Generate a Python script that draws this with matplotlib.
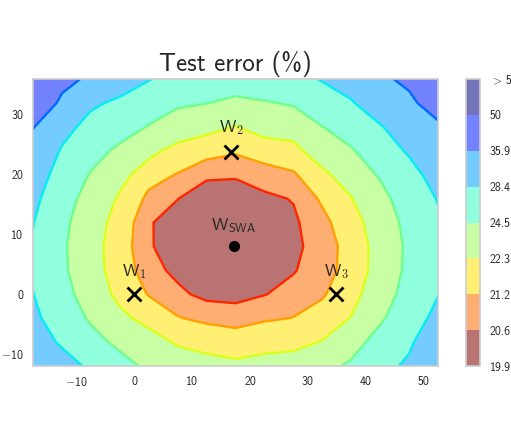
import numpy as np
import matplotlib
matplotlib.use("Agg")
import matplotlib.pyplot as plt
from matplotlib.colors import Normalize

plt.rcParams.update({
    "font.family": "cmss10",
    "mathtext.fontset": "cm",
    "axes.formatter.use_mathtext": False,
    "text.color": "0.15",
    "xtick.color": "0.15",
    "ytick.color": "0.15",
})

# grid coordinates of the plane
x_coords = [-17.5, -12.5, -7.5, -2.5, 2.5, 7.5, 12.5, 17.5, 22.5, 27.5, 32.5, 37.5, 42.5, 47.5, 52.5]
y_coords = [-12, -8, -4, 0, 4, 8, 12, 16, 20, 24, 28, 32, 36]

# test error (%) on the grid, rows follow y_coords, columns follow x_coords
err_y_m12 = [32.51, 30.15, 27.70, 25.65, 23.90, 23.20, 22.75, 22.55, 22.65, 22.95, 23.73, 24.90, 27.10, 29.10, 33.50]
err_y_m8 = [30.58, 27.82, 25.57, 23.79, 22.95, 22.12, 21.87, 21.70, 21.96, 21.92, 22.37, 23.45, 25.57, 27.73, 31.70]
err_y_m4 = [29.26, 26.32, 24.10, 22.66, 21.82, 21.25, 21.00, 20.85, 21.08, 21.22, 21.56, 22.36, 24.10, 26.34, 29.58]
err_y_0 = [28.47, 25.41, 23.27, 21.90, 21.15, 20.72, 20.45, 20.45, 20.58, 20.80, 21.11, 21.77, 23.27, 25.48, 28.28]
err_y_4 = [28.10, 24.95, 22.87, 21.68, 20.79, 20.47, 20.31, 20.26, 20.36, 20.56, 20.89, 21.51, 22.87, 25.05, 27.62]
err_y_8 = [28.10, 24.86, 22.83, 21.60, 20.65, 20.36, 20.18, 20.11, 20.24, 20.47, 20.85, 21.50, 22.83, 24.96, 27.49]
err_y_12 = [28.52, 25.08, 23.03, 21.72, 20.64, 20.40, 20.23, 20.17, 20.28, 20.50, 20.98, 21.72, 23.09, 25.23, 27.82]
err_y_16 = [29.40, 25.61, 23.50, 22.10, 20.98, 20.61, 20.35, 20.37, 20.49, 20.63, 21.32, 22.23, 23.69, 25.89, 28.61]
err_y_20 = [30.86, 26.53, 24.31, 22.77, 21.57, 21.15, 20.68, 20.65, 20.86, 21.08, 21.97, 23.11, 24.75, 27.04, 29.99]
err_y_24 = [33.05, 27.94, 25.57, 23.92, 22.69, 21.83, 21.50, 21.30, 21.60, 21.90, 23.09, 24.20, 26.47, 28.86, 32.11]
err_y_28 = [36.24, 30.05, 26.80, 25.78, 24.35, 23.24, 22.70, 22.25, 22.87, 22.91, 24.45, 26.00, 28.00, 31.62, 34.44]
err_y_32 = [40.83, 34.80, 29.20, 27.50, 26.00, 24.85, 24.55, 24.07, 24.30, 24.75, 26.90, 28.00, 31.50, 34.30, 39.89]
err_y_36 = [47.41, 37.55, 34.94, 31.00, 28.60, 26.60, 25.80, 25.60, 26.30, 27.30, 28.60, 30.50, 34.50, 37.50, 46.65]

# contour levels and colorbar labels
levels = [19.9, 20.6, 21.2, 22.3, 24.5, 28.4, 35.9, 50.0, 1e10]
level_labels = ["19.9", "20.6", "21.2", "22.3", "24.5", "28.4", "35.9", "50", r"$>\,$50"]

# axis ticks
x_ticks = [-10, 0, 10, 20, 30, 40, 50]
y_ticks = [-10, 0, 10, 20, 30]

# points
point_names = [r"W$_\mathsf{1}$", r"W$_\mathsf{2}$", r"W$_\mathsf{3}$"]
point_x = [0.0, 16.7, 34.9]
point_y = [0.0, 23.8, 0.0]
swa_name = r"W$_\mathsf{SWA}$"
swa_x = [17.2]
swa_y = [8.0]


class LogNormalize(Normalize):
    def __init__(self, vmin=None, vmax=None, clip=False, log_alpha=-1.0):
        self.log_alpha = log_alpha
        super().__init__(vmin, vmax, clip)

    def __call__(self, value, clip=None):
        v = np.ma.asarray(value, dtype=float)
        log_v = np.ma.log(np.ma.maximum(v - self.vmin, 1e-300))
        log_v = np.ma.maximum(log_v, self.log_alpha)
        return 0.9 * (log_v - self.log_alpha) / (np.log(self.vmax - self.vmin) - self.log_alpha)


def tick_text(v):
    return (r"$-$" + str(abs(v))) if v < 0 else str(v)


Z = np.array([err_y_m12, err_y_m8, err_y_m4, err_y_0, err_y_4, err_y_8, err_y_12,
              err_y_16, err_y_20, err_y_24, err_y_28, err_y_32, err_y_36])
X, Y = np.meshgrid(x_coords, y_coords)

fig = plt.figure(figsize=(5.11, 4.26), dpi=100)
ax = fig.add_axes([0.0646, 0.1408, 0.7926, 0.6737])
cax = fig.add_axes([0.912, 0.1408, 0.0274, 0.6737])

cmap = plt.get_cmap("jet_r")
norm = LogNormalize(levels[0] - 1e-8, levels[-2] + 1e-8, log_alpha=-1.0)
ax.contour(X, Y, Z, levels=levels, cmap=cmap, norm=norm, linewidths=1.7, zorder=1)
cf = ax.contourf(X, Y, Z, levels=levels, cmap=cmap, norm=norm, alpha=0.55, zorder=0)

ax.plot(point_x, point_y, linestyle="none", marker="x", color="black",
        markersize=9.5, markeredgewidth=2, zorder=3)
ax.plot(swa_x, swa_y, linestyle="none", marker="o", color="black", markersize=7, zorder=3)
offsets = [2.2, 2.5, 2.2]
for name, px, py, off in zip(point_names, point_x, point_y, offsets):
    ax.text(px, py + off, name, ha="center", va="bottom", fontsize=12.5, color="0.15")
ax.text(swa_x[0], swa_y[0] + 1.9, swa_name, ha="center", va="bottom", fontsize=12.5, color="0.15")

ax.set_xlim(x_coords[0], x_coords[-1])
ax.set_ylim(y_coords[0], y_coords[-1])
ax.set_xticks(x_ticks)
ax.set_xticklabels([tick_text(v) for v in x_ticks])
ax.set_yticks(y_ticks)
ax.set_yticklabels([tick_text(v) for v in y_ticks])
ax.tick_params(length=0, labelsize=8.5, pad=7)
for sp in ax.spines.values():
    sp.set_color("0.8")
    sp.set_linewidth(1.2)
ax.grid(False)
ax.set_title("Test error (%)", fontsize=18, pad=6, color="0.15")

cb = fig.colorbar(cf, cax=cax)
cb.set_ticks(levels)
cb.set_ticklabels(level_labels)
cb.ax.tick_params(length=0, labelsize=8.5, pad=7)
cb.outline.set_edgecolor("0.8")
cb.outline.set_linewidth(1.2)

fig.savefig("out.png", dpi=100)
